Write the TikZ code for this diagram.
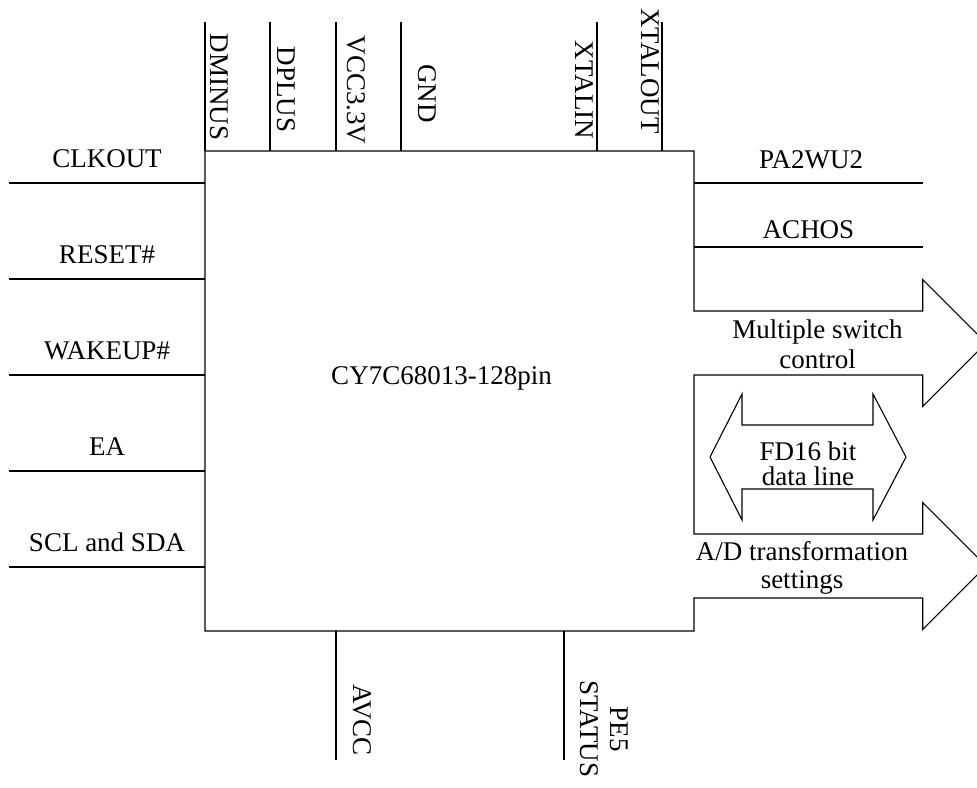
\documentclass[tikz,border=0pt]{standalone}
\usepackage{fontspec}
\setmainfont{Liberation Serif}
\newcommand{\twoline}[3]{{\fontsize{27}{#3}\selectfont\begin{tabular}[t]{@{}c@{}}#1\\#2\end{tabular}}}
\begin{document}
\begin{tikzpicture}[x=1pt,y=-1pt,line width=1.1pt,line join=miter,
  lbl/.style={font=\fontsize{27}{30}\selectfont, inner sep=0pt, outer sep=0pt},
  vlbl/.style={lbl, rotate=-90},
  pin/.style={draw=black}]
\useasboundingbox (0,0) rectangle (977,787);

% chip body (outline drawn below, with the right side opened into the bus arrows)
\node[minimum width=489pt, minimum height=480pt, inner sep=0pt, outer sep=0pt] (chip) at (449.5,391) {};
\node[lbl, anchor=base] (chiplabel) at (441.5,384) {CY7C68013-128pin};

% outline of chip merged with the two output bus arrows
\draw (chip.south west) -- (chip.north west) -- (chip.north east)
  -- (694,311) -- (922.7,311) -- (922.7,279.5) -- (986,343) -- (922.7,406.5) -- (922.7,375) -- (694,375)
  -- (694,534) -- (922.7,534) -- (922.7,502.5) -- (986,566) -- (922.7,629.5) -- (922.7,598) -- (694,598)
  -- (chip.south east) -- cycle;

% bidirectional data bus arrow
\draw (710,457) -- (742,394) -- (742,425) -- (873,425) -- (873,394) -- (906,457)
  -- (873,520) -- (873,489) -- (742,489) -- (742,520) -- cycle;

% bus labels
\node[lbl, anchor=base] (msc) at (817.5,338) {\twoline{Multiple switch}{control}{30}};
\node[lbl, anchor=base] (fd16) at (808,460) {\twoline{FD16 bit}{data line}{23.5}};
\node[lbl, anchor=base] (adt) at (802,560) {\twoline{A/D transformation}{settings}{28}};

% left pins
\foreach \nm/\txt/\yy in {clk/CLKOUT/183, rst/RESET\#/279, wak/WAKEUP\#/375, ea/EA/471, scl/SCL and SDA/567}{
  \coordinate (\nm end) at (9,\yy);
  \draw[pin] (\nm end) -- (\nm end -| chip.west);
  \node[lbl, anchor=base] (\nm) at (107,\yy-16) {\txt};
}

% right pins
\coordinate (pa end) at (923,183);
\draw[pin] (pa end -| chip.east) -- (pa end);
\node[lbl, anchor=base] (pa) at (811,168) {PA2WU2};
\coordinate (ach end) at (923,247);
\draw[pin] (ach end -| chip.east) -- (ach end);
\node[lbl, anchor=base] (ach) at (808.5,238) {ACHOS};

% top pins
\foreach \nm/\xx in {dm/205, dp/270, vcc/336, gnd/401, xin/597, xout/662}{
  \coordinate (\nm end) at (\xx,22);
  \draw[pin] (\nm end) -- (\nm end |- chip.north);
}
\node[vlbl] (dminus) at (219,87) {DMINUS};
\node[vlbl] (dplus) at (286,89.5) {DPLUS};
\node[vlbl] (vcclbl) at (356,90) {VCC3.3V};
\node[vlbl] (gndlbl) at (427,93.5) {GND};
\node[vlbl] (xinlbl) at (584,90) {XTALIN};
\node[vlbl] (xoutlbl) at (650,71) {XTALOUT};

% bottom pins
\coordinate (avcc end) at (336,760);
\draw[pin] (avcc end |- chip.south) -- (avcc end);
\coordinate (pe end) at (564,760);
\draw[pin] (pe end |- chip.south) -- (pe end);
\node[vlbl] (avcclbl) at (362,720) {AVCC};
\node[vlbl, align=center] (pelbl) at (604,729) {PE5\\STATUS};
\end{tikzpicture}
\end{document}
